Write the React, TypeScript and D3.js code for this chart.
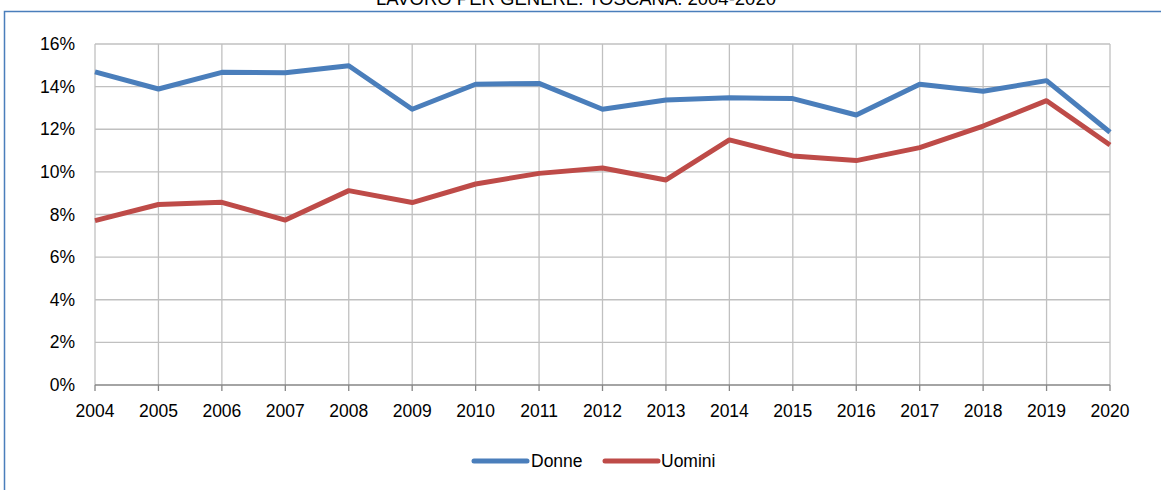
import React from 'react';
import * as d3 from 'd3';

const years = ['2004', '2005', '2006', '2007', '2008', '2009', '2010', '2011', '2012', '2013', '2014', '2015', '2016', '2017', '2018', '2019', '2020'];
const donne = [14.69, 13.89, 14.67, 14.65, 14.98, 12.94, 14.11, 14.15, 12.94, 13.37, 13.48, 13.44, 12.67, 14.11, 13.78, 14.28, 11.86];
const uomini = [7.71, 8.47, 8.57, 7.74, 9.12, 8.56, 9.43, 9.93, 10.18, 9.62, 11.5, 10.75, 10.53, 11.14, 12.15, 13.34, 11.26];
const yTicks = [0, 2, 4, 6, 8, 10, 12, 14, 16];

const W = 1161;
const H = 490;
const FONT = '"Liberation Sans", Arial, sans-serif';

const App = () => {
  const x = d3.scalePoint<string>().domain(years).range([95, 1110]);
  const y = d3.scaleLinear().domain([0, 16]).range([385, 44]);

  const line = d3.line<number>()
    .x((_, i) => x(years[i]) as number)
    .y(d => y(d));

  const series = [
    { name: 'Donne', values: donne, color: '#4a7ebb' },
    { name: 'Uomini', values: uomini, color: '#be4b48' },
  ];

  return (
    <svg width={W} height={H} style={{ position: 'absolute', left: 0, top: 0, display: 'block' }}>
      <rect width={W} height={H} fill="#fff" />
      {/* title is cropped at the top in the source image */}
      <text x={576} y={5} textAnchor="middle" fontFamily={FONT} fontSize={18.5} fill="#000">
        LAVORO PER GENERE. TOSCANA. 2004-2020
      </text>
      <rect x={4.5} y={11.5} width={1300} height={700} fill="none" stroke="#4a7ebb" strokeWidth={1.5} />

      {/* grid */}
      {yTicks.filter(t => t > 0).map(t => (
        <line key={'h' + t} x1={95} x2={1110} y1={y(t)} y2={y(t)} stroke="#c0c0c0" strokeWidth={1.3} />
      ))}
      {years.map(yr => (
        <line key={'v' + yr} x1={x(yr)} x2={x(yr)} y1={y(16)} y2={y(0)} stroke="#c0c0c0" strokeWidth={1.3} />
      ))}

      {/* x axis */}
      <line x1={95} x2={1110} y1={y(0)} y2={y(0)} stroke="#868686" strokeWidth={1.3} />
      {years.map(yr => (
        <g key={'t' + yr}>
          <line x1={x(yr)} x2={x(yr)} y1={y(0)} y2={y(0) + 6} stroke="#868686" strokeWidth={1.3} />
          <text x={x(yr)} y={417} textAnchor="middle" fontFamily={FONT} fontSize={17.5} fill="#000">{yr}</text>
        </g>
      ))}

      {/* y axis labels */}
      {yTicks.map(t => (
        <text key={'y' + t} x={75} y={y(t) + 6} textAnchor="end" fontFamily={FONT} fontSize={17.5} fill="#000">
          {t}%
        </text>
      ))}

      {/* lines */}
      {series.map(s => (
        <path key={s.name} d={line(s.values) || ''} fill="none" stroke={s.color} strokeWidth={5} strokeLinejoin="round" />
      ))}

      {/* legend */}
      <line x1={474} x2={527} y1={461} y2={461} stroke="#4a7ebb" strokeWidth={5} strokeLinecap="round" />
      <text x={531} y={467} fontFamily={FONT} fontSize={17.5} fill="#000">Donne</text>
      <line x1={605} x2={658} y1={461} y2={461} stroke="#be4b48" strokeWidth={5} strokeLinecap="round" />
      <text x={661} y={467} fontFamily={FONT} fontSize={17.5} fill="#000">Uomini</text>
    </svg>
  );
};

export default App;
